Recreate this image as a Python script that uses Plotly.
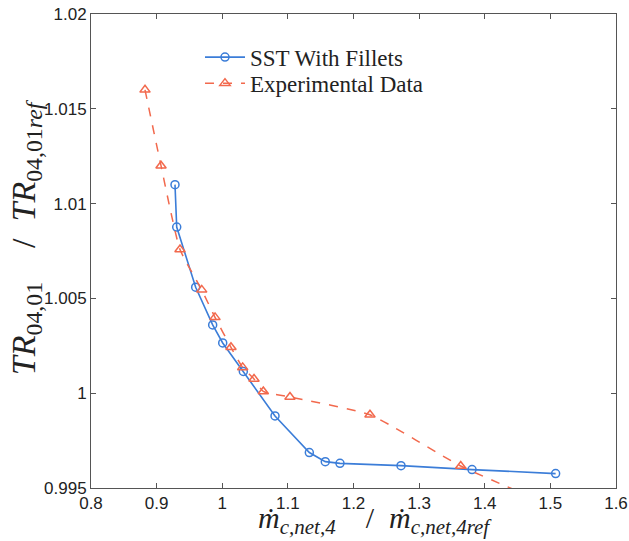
import plotly.graph_objects as go

# SST With Fillets (simulation)
sst_x = [0.928, 0.9306, 0.9595, 0.9854, 1.0007, 1.0321, 1.0804, 1.1327, 1.157, 1.1794, 1.2724, 1.3806, 1.508]
sst_y = [1.0110, 1.00876, 1.00559, 1.0036, 1.00265, 1.00115, 0.9988, 0.99687, 0.99639, 0.9963, 0.99618, 0.99597, 0.99576]

# Experimental data
exp_x = [0.8823, 0.9067, 0.9356, 0.9687, 0.989, 1.0133, 1.0311, 1.0484, 1.0626, 1.1032, 1.2251, 1.3634, 1.50]
exp_y = [1.0160, 1.0120, 1.00758, 1.00545, 1.0040, 1.00242, 1.00136, 1.00075, 1.00009, 0.9998, 0.99886, 0.99616, 0.9941]

x_ticks = [0.8, 0.9, 1.0, 1.1, 1.2, 1.3, 1.4, 1.5, 1.6]
x_tick_text = ["0.8", "0.9", "1", "1.1", "1.2", "1.3", "1.4", "1.5", "1.6"]
y_ticks = [0.995, 1.0, 1.005, 1.01, 1.015, 1.02]
y_tick_text = ["0.995", "1", "1.005", "1.01", "1.015", "1.02"]

x_title = "<i>ṁ</i><sub><i>c,net,4</i></sub>    /  <i>ṁ</i><sub><i>c,net,4ref</i></sub>"
y_title = "<i>TR</i><sub>04,01</sub>    /  <i>TR</i><sub>04,01<i>ref</i></sub>"

BLUE = "#3b7dd8"
RED = "#f2694d"
TEXT = "#222222"

fig = go.Figure()
fig.add_trace(go.Scatter(
    x=sst_x, y=sst_y, mode="lines+markers", name="SST With Fillets",
    line=dict(color=BLUE, width=1.6),
    marker=dict(symbol="circle-open", size=8, color=BLUE, line=dict(width=1.5)),
    legend="legend",
))
fig.add_trace(go.Scatter(
    x=exp_x, y=exp_y, mode="lines+markers", name="Experimental Data",
    line=dict(color=RED, width=1.5, dash="dash", shape="spline", smoothing=0.5),
    marker=dict(symbol="triangle-up-open", size=9, color=RED, line=dict(width=1.5)),
    legend="legend2",
))

axis_common = dict(
    showgrid=False, zeroline=False, showline=True, linecolor="#555555", linewidth=1,
    mirror="ticks", ticks="inside", ticklen=5, tickcolor="#555555",
    tickfont=dict(family="Liberation Sans, Arial, sans-serif", size=17, color=TEXT),
    automargin=False,
)

legend_common = dict(
    xanchor="left", yanchor="middle",
    bgcolor="rgba(0,0,0,0)", borderwidth=0,
    font=dict(family="Liberation Serif, serif", size=23, color=TEXT),
    itemwidth=40,
)

fig.update_layout(
    width=629, height=541,
    margin=dict(l=91, r=13, t=14, b=53),
    paper_bgcolor="white", plot_bgcolor="white",
    showlegend=True,
    legend=dict(x=0.2076, y=0.909, **legend_common),
    legend2=dict(x=0.2076, y=0.854, **legend_common),
    xaxis=dict(range=[0.8, 1.6], tickvals=x_ticks, ticktext=x_tick_text, **axis_common),
    yaxis=dict(range=[0.995, 1.02], tickvals=y_ticks, ticktext=y_tick_text, **axis_common),
    annotations=[
        dict(text=x_title, xref="paper", yref="paper", x=0.541, y=-0.068,
             xanchor="center", yanchor="middle", showarrow=False,
             font=dict(family="Liberation Serif, serif", size=30, color=TEXT)),
        dict(text=y_title, xref="paper", yref="paper", x=-0.125, y=0.53,
             xanchor="center", yanchor="middle", showarrow=False, textangle=-90,
             font=dict(family="Liberation Serif, serif", size=34, color=TEXT)),
    ],
)

fig.write_html("out.html", config={"displayModeBar": False},
               post_script="document.body.style.margin='0px';")
